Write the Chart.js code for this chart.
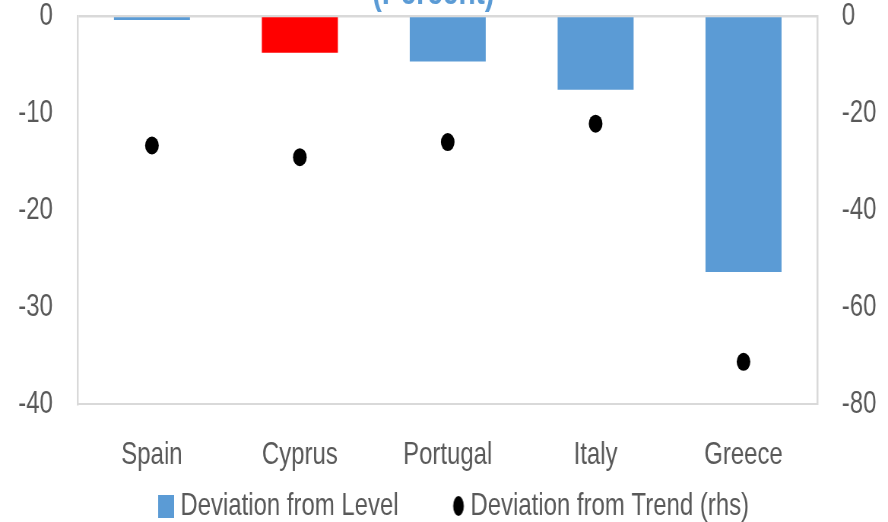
<!DOCTYPE html>
<html>
<head>
<meta charset="utf-8">
<script src="https://cdn.jsdelivr.net/npm/chart.js@4"></script>
<style>
  html, body { margin: 0; padding: 0; background: #ffffff; }
  #frame { width: 888px; height: 522px; overflow: hidden; position: relative; }
  /* The chart is laid out on a wider canvas and narrowed horizontally,
     which gives the condensed lettering and upright oval markers. */
  #stage { width: 1168px; height: 522px; transform: scaleX(0.76027); transform-origin: 0 0; }
  canvas { display: block; }
</style>
</head>
<body>
<div id="frame"><div id="stage"><canvas id="chart" width="1168" height="522"></canvas></div></div>
<script>
// ---- data ----
const categories = ['Spain', 'Cyprus', 'Portugal', 'Italy', 'Greece'];
const levelDeviation = [-0.4, -3.8, -4.7, -7.6, -26.4];      // left axis, percent
const trendDeviation = [-26.7, -29.1, -26.0, -22.2, -71.3];  // right axis (rhs), percent
const leftTicks = [0, -10, -20, -30, -40];
const rightTicks = [0, -20, -40, -60, -80];
const seriesNames = ['Deviation from Level', 'Deviation from Trend (rhs)'];
const titleText = '(Percent)';
const highlighted = 'Cyprus';

// ---- styling ----
const FONT = '"Liberation Sans", Arial, sans-serif';
const BLUE = '#5B9BD5';
const RED = '#FF0000';
const TEXT = '#595959';
const LINE = '#D9D9D9';
const FONT_SIZE = 31.5;

Chart.defaults.font.family = FONT;

function swatch(w, h, paint) {
  const c = document.createElement('canvas');
  c.width = w; c.height = h;
  paint(c.getContext('2d'));
  return c;
}
const levelSwatch = swatch(21, 23, g => { g.fillStyle = BLUE; g.fillRect(0, 0, 21, 23); });
const trendSwatch = swatch(30, 20, g => {
  g.fillStyle = '#000000';
  g.beginPath();
  g.ellipse(17.5, 10, 7, 10, 0, 0, Math.PI * 2);
  g.fill();
});

// Title sits at the very top edge of the canvas
const topTitle = {
  id: 'topTitle',
  afterDraw(chart) {
    const ctx = chart.ctx;
    ctx.save();
    ctx.font = 'bold 37px ' + FONT;
    ctx.fillStyle = BLUE;
    ctx.textAlign = 'center';
    ctx.textBaseline = 'alphabetic';
    ctx.fillText(titleText, 570, 4);
    ctx.restore();
  }
};

// vertical axes: keep label padding from pushing the plot area down
function fixVertical(width) {
  return scale => {
    scale.width = width;
    scale.paddingTop = 0;
    scale.paddingBottom = 0;
  };
}

const barColors = categories.map(c => (c === highlighted ? RED : BLUE));

new Chart(document.getElementById('chart'), {
  type: 'bar',
  data: {
    labels: categories,
    datasets: [
      {
        type: 'bar',
        label: seriesNames[0],
        data: levelDeviation,
        backgroundColor: barColors,
        borderWidth: 0,
        yAxisID: 'y',
        barPercentage: 0.514,
        categoryPercentage: 1,
        order: 2
      },
      {
        type: 'line',
        label: seriesNames[1],
        data: trendDeviation,
        yAxisID: 'y1',
        showLine: false,
        pointRadius: 9,
        pointHoverRadius: 9,
        pointBackgroundColor: '#000000',
        pointBorderColor: '#000000',
        pointBorderWidth: 0,
        order: 1
      }
    ]
  },
  options: {
    responsive: false,
    animation: false,
    devicePixelRatio: 1,
    layout: { padding: { left: 0, right: -33.6, top: 16, bottom: -9.75 } },
    plugins: {
      title: { display: false },
      tooltip: { enabled: false },
      legend: {
        display: true,
        position: 'bottom',
        align: 'center',
        labels: {
          usePointStyle: true,
          boxWidth: 5,
          padding: 73.75,
          color: TEXT,
          font: { family: FONT, size: FONT_SIZE },
          generateLabels: () => [
            { text: seriesNames[0], pointStyle: levelSwatch, fillStyle: BLUE, strokeStyle: 'rgba(0,0,0,0)', lineWidth: 0, hidden: false, datasetIndex: 0, fontColor: TEXT },
            { text: seriesNames[1], pointStyle: trendSwatch, fillStyle: '#000000', strokeStyle: 'rgba(0,0,0,0)', lineWidth: 0, hidden: false, datasetIndex: 1, fontColor: TEXT }
          ]
        }
      }
    },
    scales: {
      x: {
        type: 'category',
        position: 'bottom',
        offset: true,
        grid: { display: false },
        border: { display: true, color: LINE, width: 2 },
        ticks: {
          mirror: true,
          color: TEXT,
          font: { family: FONT, size: FONT_SIZE, lineHeight: 1.2 },
          padding: -70
        },
        afterFit(scale) { scale.height = 12.5; }
      },
      y: {
        type: 'linear',
        position: 'left',
        min: Math.min(...leftTicks),
        max: Math.max(...leftTicks),
        ticks: {
          stepSize: leftTicks[0] - leftTicks[1],
          color: TEXT,
          font: { family: FONT, size: FONT_SIZE, lineHeight: 1 },
          padding: 33
        },
        grid: {
          drawTicks: false,
          color: ctx => (ctx.tick && ctx.tick.value === 0 ? LINE : 'rgba(0,0,0,0)'),
          lineWidth: 2.5
        },
        border: { display: true, color: LINE, width: 2.5 },
        afterFit: fixVertical(102.6)
      },
      y1: {
        type: 'linear',
        position: 'right',
        min: Math.min(...rightTicks),
        max: Math.max(...rightTicks),
        ticks: {
          stepSize: rightTicks[0] - rightTicks[1],
          color: TEXT,
          font: { family: FONT, size: FONT_SIZE, lineHeight: 1 },
          padding: 32
        },
        grid: { drawOnChartArea: false, drawTicks: false },
        border: { display: true, color: LINE, width: 2.5 },
        afterFit: fixVertical(126.4)
      }
    }
  },
  plugins: [topTitle]
});
</script>
</body>
</html>
